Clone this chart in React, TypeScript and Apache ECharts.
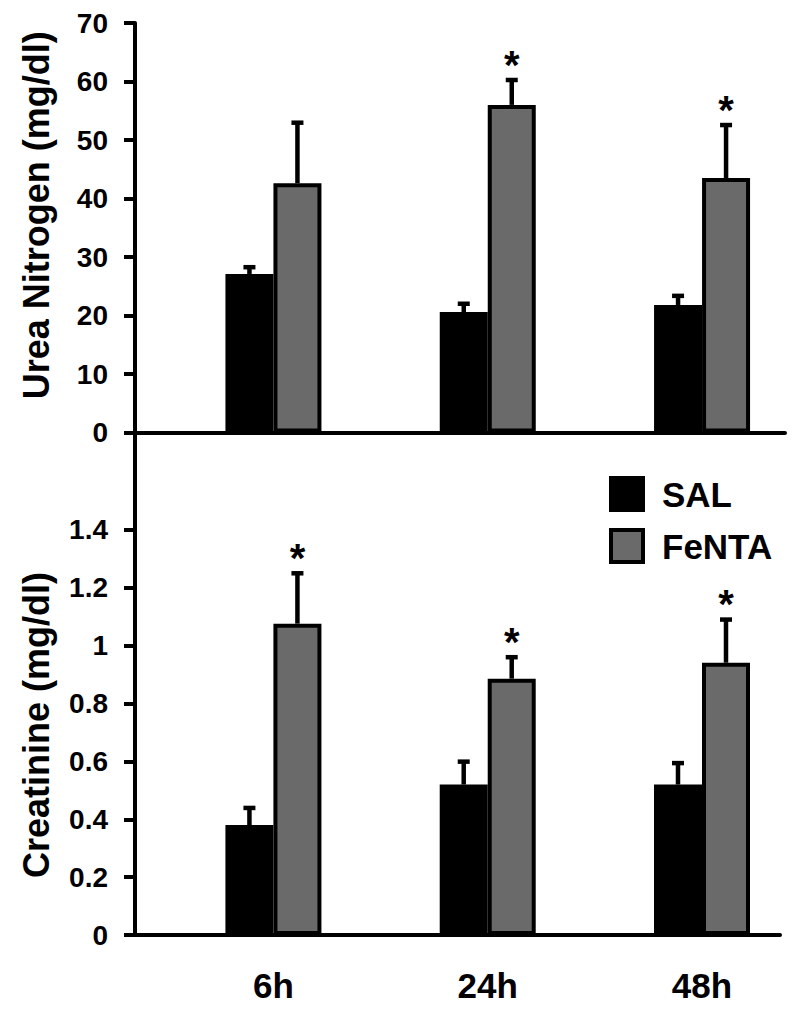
import React, { useEffect, useRef } from "react";
import * as echarts from "echarts";

const timePoints = ["6h", "24h", "48h"];
const groupPos = [1, 2, 3];
const seriesNames = ["SAL", "FeNTA"];

const ureaSAL = [27.1, 20.6, 21.8];
const ureaSALErr = [1.2, 1.45, 1.6];
const ureaFeNTA = [42.6, 56.0, 43.5];
const ureaFeNTAErr = [10.4, 4.3, 9.1];
const ureaFeNTASig = [false, true, true];

const creatSAL = [0.38, 0.52, 0.52];
const creatSALErr = [0.06, 0.08, 0.075];
const creatFeNTA = [1.076, 0.886, 0.941];
const creatFeNTAErr = [0.175, 0.075, 0.15];
const creatFeNTASig = [true, true, true];

const ureaTicks = [0, 10, 20, 30, 40, 50, 60, 70];
const creatTicks = [0, 0.2, 0.4, 0.6, 0.8, 1, 1.2, 1.4];
const noSig = [false, false, false];

const FONT = '"Liberation Sans", Arial, sans-serif';
const SAL_COLOR = "#000000";
const FENTA_COLOR = "#6a6a6a";
const BAR_W = 48;

const X_MIN = 0.354;
const X_MAX_TOP = 3.387;
const X_MAX_BOTTOM = 3.364;
const CREAT_MAX = 1.735;

function errSeries(xi: number, yi: number, means: number[], errs: number[], sigs: boolean[], offset: number) {
  return {
    type: "custom",
    xAxisIndex: xi,
    yAxisIndex: yi,
    silent: true,
    z: 5,
    encode: { x: 0, y: 1 },
    data: groupPos.map((p, i) => [p, means[i], errs[i], sigs[i] ? 1 : 0]),
    renderItem: (params: any, api: any) => {
      const x = api.value(0);
      const m = api.value(1);
      const e = api.value(2);
      const s = api.value(3);
      const base = api.coord([x, m]);
      const top = api.coord([x, m + e]);
      const cx = base[0] + offset;
      const children: any[] = [
        { type: "line", shape: { x1: cx, y1: base[1], x2: cx, y2: top[1] }, style: { stroke: "#000", lineWidth: 4.5 } },
        { type: "rect", shape: { x: cx - 6, y: top[1] - 2, width: 12, height: 4.5 }, style: { fill: "#000" } },
      ];
      if (s) {
        children.push({
          type: "text",
          x: cx,
          y: top[1] - 15,
          style: { text: "*", fill: "#000", fontSize: 40, fontWeight: "bold", fontFamily: FONT, align: "center", verticalAlign: "middle" },
        });
      }
      return { type: "group", children };
    },
  };
}

// Tick labels placed through the axis scale (api.coord) of each panel.
function tickLabelSeries(xi: number, yi: number, ticks: number[]) {
  return {
    type: "custom",
    xAxisIndex: xi,
    yAxisIndex: yi,
    silent: true,
    clip: false,
    z: 6,
    encode: { x: 0, y: 1 },
    data: ticks.map((t) => [X_MIN, t]),
    renderItem: (params: any, api: any) => {
      const v = api.value(1);
      const pt = api.coord([X_MIN, v]);
      return {
        type: "text",
        x: pt[0] - 27,
        y: pt[1],
        style: {
          text: String(v),
          fill: "#000",
          fontSize: 28,
          fontWeight: "bold",
          fontFamily: FONT,
          align: "right",
          verticalAlign: "middle",
        },
      };
    },
  };
}

function barSeries(name: string, xi: number, yi: number, values: number[], color: string) {
  return {
    name,
    type: "bar",
    xAxisIndex: xi,
    yAxisIndex: yi,
    barWidth: BAR_W,
    barGap: "0%",
    data: groupPos.map((p, i) => [p, values[i]]),
    itemStyle: { color, borderColor: "#000", borderWidth: 4 },
  };
}

export default function App() {
  const ref = useRef<HTMLDivElement>(null);
  useEffect(() => {
    if (!ref.current) return;
    const chart = echarts.init(ref.current, undefined, { renderer: "svg" });
    const axisLine = { show: true, lineStyle: { color: "#000", width: 4 } };
    const yTick = { show: true, length: 11, lineStyle: { color: "#000", width: 4 } };
    chart.setOption({
      animation: false,
      backgroundColor: "#fff",
      grid: [
        { left: 135, top: 23, width: 650, height: 409.5 },
        { left: 135, top: 433, width: 645, height: 502 },
      ],
      legend: {
        data: seriesNames,
        orient: "vertical",
        left: 604,
        top: 471,
        icon: "rect",
        itemWidth: 32,
        itemHeight: 32,
        itemGap: 16,
        itemStyle: { borderColor: "#000", borderWidth: 4 },
        textStyle: { color: "#000", fontSize: 35, fontWeight: "bold", fontFamily: FONT, lineHeight: 32, padding: [0, 0, 0, 14] },
        selectedMode: false,
      },
      xAxis: [
        {
          type: "value", gridIndex: 0, min: X_MIN, max: X_MAX_TOP,
          axisLine, axisTick: { show: false }, axisLabel: { show: false }, splitLine: { show: false },
        },
        {
          type: "value", gridIndex: 1, min: X_MIN, max: X_MAX_BOTTOM,
          axisLine, axisTick: { show: false }, splitLine: { show: false },
          axisLabel: {
            customValues: groupPos,
            formatter: (v: number) => timePoints[Math.round(v) - 1],
            color: "#000", fontSize: 35, fontWeight: "bold", fontFamily: FONT, margin: 33,
          },
        },
      ],
      yAxis: [
        {
          type: "value", gridIndex: 0, min: 0, max: 70, interval: 10,
          axisLine, axisTick: yTick,
          axisLabel: { show: false },
          splitLine: { show: false },
          name: "Urea Nitrogen (mg/dl)", nameLocation: "middle", nameGap: 81,
          nameTextStyle: { color: "#000", fontSize: 36, fontWeight: "bold", fontFamily: FONT, padding: [0, 0, 0, 25] },
        },
        {
          type: "value", gridIndex: 1, min: 0, max: CREAT_MAX,
          axisLine,
          axisTick: { ...yTick, customValues: creatTicks },
          axisLabel: { show: false },
          splitLine: { show: false },
          name: "Creatinine (mg/dl)", nameLocation: "middle", nameGap: 81,
          nameTextStyle: { color: "#000", fontSize: 36, fontWeight: "bold", fontFamily: FONT, padding: [0, 82, 0, 0] },
        },
      ],
      series: [
        barSeries("SAL", 0, 0, ureaSAL, SAL_COLOR),
        barSeries("FeNTA", 0, 0, ureaFeNTA, FENTA_COLOR),
        barSeries("SAL", 1, 1, creatSAL, SAL_COLOR),
        barSeries("FeNTA", 1, 1, creatFeNTA, FENTA_COLOR),
        errSeries(0, 0, ureaSAL, ureaSALErr, noSig, -BAR_W / 2),
        errSeries(0, 0, ureaFeNTA, ureaFeNTAErr, ureaFeNTASig, BAR_W / 2),
        errSeries(1, 1, creatSAL, creatSALErr, noSig, -BAR_W / 2),
        errSeries(1, 1, creatFeNTA, creatFeNTAErr, creatFeNTASig, BAR_W / 2),
        tickLabelSeries(0, 0, ureaTicks),
        tickLabelSeries(1, 1, creatTicks),
      ],
    });
    return () => chart.dispose();
  }, []);
  return (
    <div ref={ref} style={{ position: "absolute", left: 0, top: 0, width: 800, height: 1013, background: "#fff" }} />
  );
}
